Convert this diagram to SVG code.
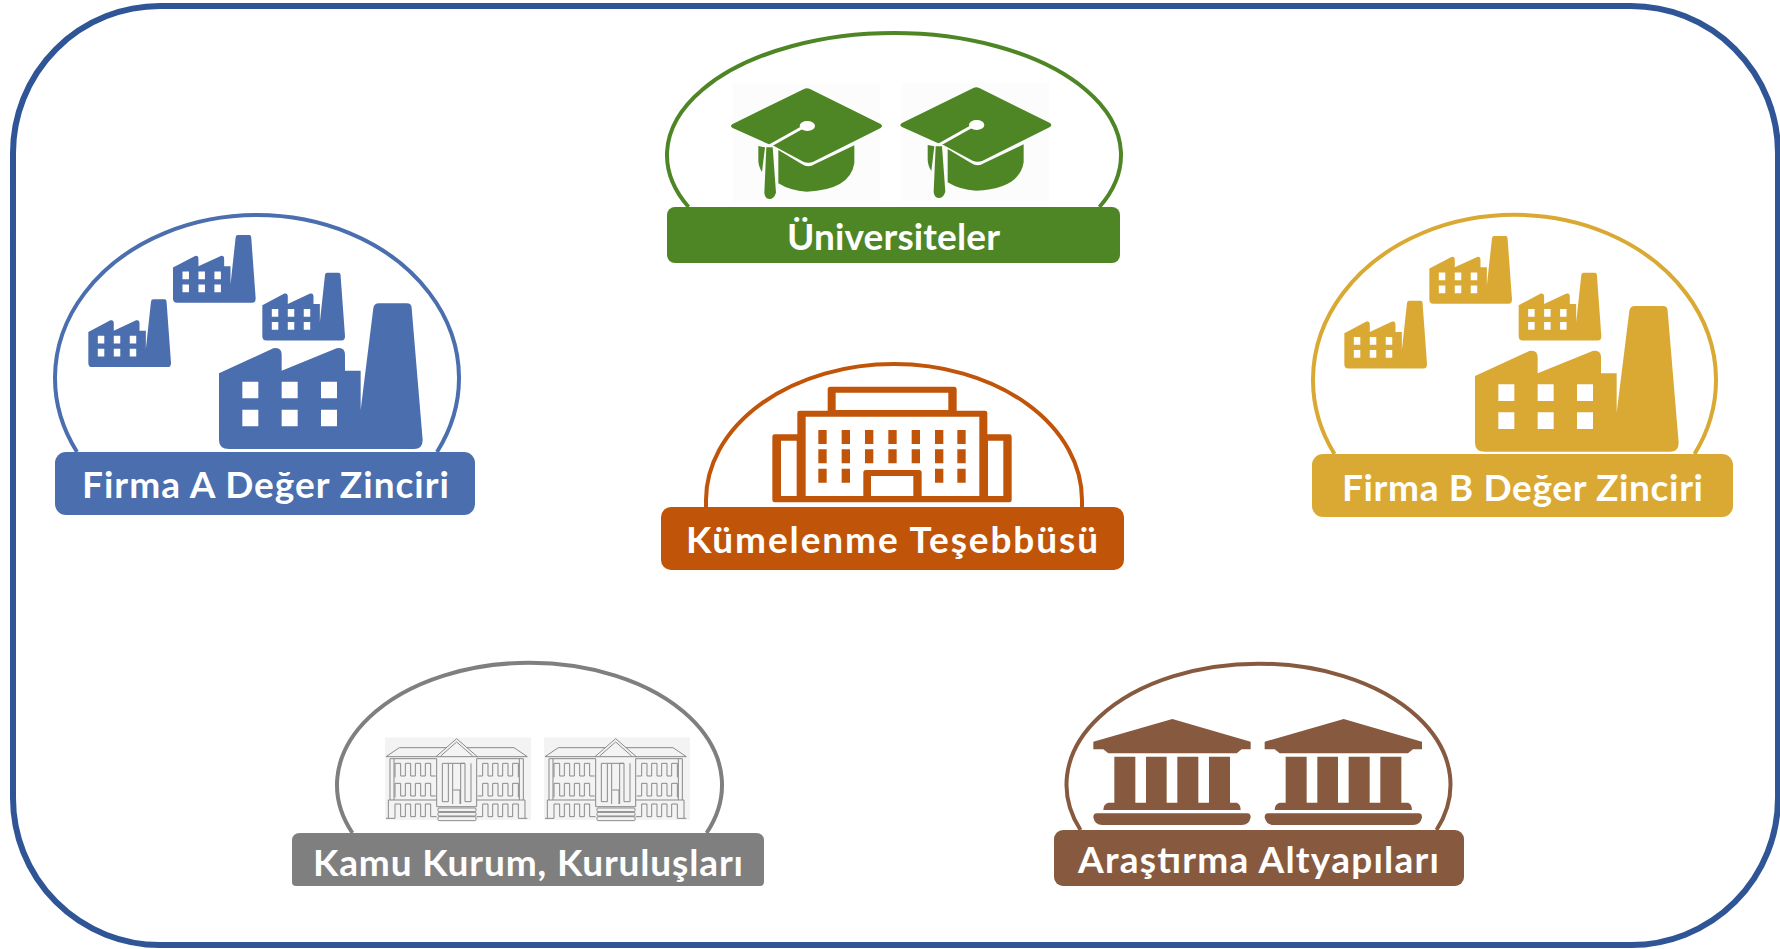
<svg xmlns="http://www.w3.org/2000/svg" xmlns:xlink="http://www.w3.org/1999/xlink" width="1780" height="949" viewBox="0 0 1780 949">
<style>
.lbl{font-family:"Lato","Liberation Sans",sans-serif;font-weight:700;font-size:37px;fill:#fff}
.arc{fill:none;stroke-width:4}
.ln{fill:none;stroke:#8a8a8a;stroke-width:3}
</style>
<defs>
<path id="factory" fill-rule="evenodd" d="M0 210 L163 135 Q188 130 188 155 V202 L353 135 Q378 130 378 155 V202 H425 V320 L463 15 Q465 0 480 0 H563 Q578 0 578 15 L611 410 Q611 437 585 437 H30 Q0 437 0 410 Z M70 235 V285 H118 V235 Z M188 235 V285 H236 V235 Z M306 235 V285 H354 V235 Z M70 319 V369 H118 V319 Z M188 319 V369 H236 V319 Z M306 319 V369 H354 V319 Z"/>
<g id="cap">
<rect x="248" y="190" width="442" height="355" fill="#fcfcfc"/>
<path d="M462 207 Q470 203 480 207 L692 312 Q700 318 692 324 L490 425 Q475 432 460 425 L372 378 L355 372 L248 324 Q238 318 248 312 Z"/>
<path d="M385 390 L455 432 Q475 446 495 432 L613 376 V430 Q600 510 470 515 Q420 512 385 490 Z"/>
<path d="M325 378 L345 382 L336 456 Q325 440 325 420 Z"/>
<path d="M349 382 H368 L378 518 Q372 537 358 537 Q344 535 343 518 Z"/>
<path d="M358 378 L465 318" fill="none" stroke="#fff" stroke-width="9"/>
<ellipse cx="472" cy="318" rx="23" ry="15" fill="#fff"/>
</g>
<g id="temple">
<path d="M397 207 L632 275 V298 H605 L590 310 H205 L190 298 H160 V275 Z"/>
<path d="M223 320 H286 V458 H318 V320 H380 V458 H412 V320 H475 V458 H507 V320 H570 V458 H590 Q602 462 602 480 H190 Q190 462 205 458 H223 Z"/>
<path d="M170 490 H622 Q632 490 632 502 Q628 525 605 525 H187 Q164 525 160 502 Q160 490 170 490 Z"/>
</g>
<g id="wing">
<path d="M345 382 V340 H362 V378 H376 V340 H392 V378 H406 V340 H422 V378 H436 V340 H452 V378 H467"/>
<path d="M345 442 V400 H362 V438 H376 V400 H392 V438 H406 V400 H422 V438 H436 V400 H452 V438 H467"/>
<path d="M318 505 H345 V462 H362 V500 H376 V462 H392 V500 H406 V462 H422 V500 H436 V462 H452 V500 H470"/>
<path d="M318 320 L358 293 H500 M318 320 H470 M330 326 H470 M330 326 V450 M342 326 V450 M325 450 H470 M325 450 V505"/>
</g>
<g id="gov">
<rect x="315" y="262" width="438" height="248" fill="#f3f3f3"/>
<g class="ln">
<use href="#wing"/>
<use href="#wing" transform="translate(1060 0) scale(-1 1)"/>
<path d="M468 320 L530 266 L592 320 Z M482 318 L530 276 L578 318"/>
<path d="M470 326 V470 H590 V326 M487 340 V455 H505 V340 H518 V462 M542 462 V340 H555 V455 H573 V340 M487 340 H505 M518 340 H555 M520 420 H540 V462"/>
<rect x="474" y="474" width="114" height="11" rx="3"/>
<rect x="474" y="487" width="114" height="11" rx="3"/>
<rect x="474" y="500" width="114" height="12" rx="3"/>
</g>
</g>
</defs>
<rect width="1780" height="949" fill="#fff"/>
<g id="connectors"></g>
<rect id="frame" x="13" y="6" width="1765" height="939" rx="147" ry="147" fill="none" stroke="#2f5597" stroke-width="6"/>

<g id="node-universiteler" fill="#4e8625">
<path class="arc" stroke="#4e8625" d="M688.600 207 A227 122 0 1 1 1099.400 207"/>
<rect x="667" y="207" width="453" height="56" rx="8"/>
<g transform="translate(650 20) scale(.33333)">
<use href="#cap"/>
<use href="#cap" transform="translate(508 -3)"/>
</g>
<text class="lbl" x="893.500" y="250" text-anchor="middle" textLength="213" lengthAdjust="spacing">Üniversiteler</text>
</g>

<g id="node-firma-a" fill="#4a6eae">
<path class="arc" stroke="#4a6eae" d="M77 452 A202 163 0 1 1 437 452"/>
<rect x="55" y="452" width="420" height="63" rx="11"/>
<g transform="translate(40 200) scale(.33333)">
<use href="#factory" transform="translate(537 310)"/>
<use href="#factory" transform="translate(145 298) scale(.406 .465)"/>
<use href="#factory" transform="translate(399 105) scale(.406 .465)"/>
<use href="#factory" transform="translate(667 218) scale(.406 .465)"/>
</g>
<text class="lbl" x="265.500" y="498" text-anchor="middle" textLength="367" lengthAdjust="spacing">Firma A Değer Zinciri</text>
</g>

<g id="node-firma-b" fill="#daa933">
<path class="arc" stroke="#daa933" d="M1334.500 454 A201.500 165 0 1 1 1694.500 454"/>
<rect x="1312" y="454" width="421" height="63" rx="11"/>
<g transform="translate(1290 200) scale(.33333)">
<use href="#factory" transform="translate(555 318)"/>
<use href="#factory" transform="translate(163 302) scale(.406 .465)"/>
<use href="#factory" transform="translate(418 108) scale(.406 .465)"/>
<use href="#factory" transform="translate(686 218) scale(.406 .465)"/>
</g>
<text class="lbl" x="1522.500" y="501" text-anchor="middle" textLength="361" lengthAdjust="spacing">Firma B Değer Zinciri</text>
</g>

<g id="node-kumelenme" fill="#c05408">
<path class="arc" stroke="#c05408" d="M706 507 V500 A188 136 0 0 1 1082 500 V507"/>
<rect x="661" y="507" width="463" height="63" rx="10"/>
<path transform="translate(650 350) scale(.33333)" fill-rule="evenodd" d="M533 118 Q533 110 541 110 H912 Q920 110 920 118 V182 H1005 Q1012 182 1012 189 V253 H1078 Q1085 253 1085 260 V450 Q1085 457 1078 457 H374 Q367 457 367 450 V260 Q367 253 374 253 H442 V189 Q442 182 449 182 H533 Z M557 128 H895 V180 H557 Z M393 272 H440 V438 H393 Z M1014 272 H1060 V438 H1014 Z M467 200 H988 V438 H815 V368 Q815 360 807 360 H648 Q640 360 640 368 V438 H467 Z M663 378 H790 V438 H663 Z"/>
<g transform="translate(650 350) scale(.33333)">
<path d="M505 240h25v42h-25z M575 240h25v42h-25z M645 240h25v42h-25z M715 240h25v42h-25z M785 240h25v42h-25z M855 240h25v42h-25z M922 240h25v42h-25z M505 298h25v42h-25z M575 298h25v42h-25z M645 298h25v42h-25z M715 298h25v42h-25z M785 298h25v42h-25z M855 298h25v42h-25z M922 298h25v42h-25z M505 356h25v42h-25z M575 356h25v42h-25z M855 356h25v42h-25z M922 356h25v42h-25z"/>
</g>
<text class="lbl" x="892" y="553" text-anchor="middle" textLength="412" lengthAdjust="spacing">Kümelenme Teşebbüsü</text>
</g>

<g id="node-kamu" fill="#7f7f7f">
<path class="arc" stroke="#7f7f7f" d="M352.400 833 A192.500 122.300 0 1 1 706.600 833"/>
<path d="M300 833 H756 Q764 833 764 841 V882 Q764 886 760 886 H296 Q292 886 292 882 V841 Q292 833 300 833 Z"/>
<g transform="translate(280 650) scale(.33333)">
<use href="#gov"/>
<use href="#gov" transform="translate(477 0)"/>
</g>
<text class="lbl" x="528" y="876" text-anchor="middle" textLength="430" lengthAdjust="spacing">Kamu Kurum, Kuruluşları</text>
</g>

<g id="node-arastirma" fill="#875a3f">
<path class="arc" stroke="#875a3f" d="M1080.500 830 A192 121 0 1 1 1436.500 830"/>
<rect x="1054" y="830" width="410" height="56" rx="9"/>
<g transform="translate(1040 650) scale(.33333)">
<use href="#temple"/>
<use href="#temple" transform="translate(514 0)"/>
</g>
<text class="lbl" x="1258.500" y="873" text-anchor="middle" textLength="361" lengthAdjust="spacing">Araştırma Altyapıları</text>
</g>
</svg>
